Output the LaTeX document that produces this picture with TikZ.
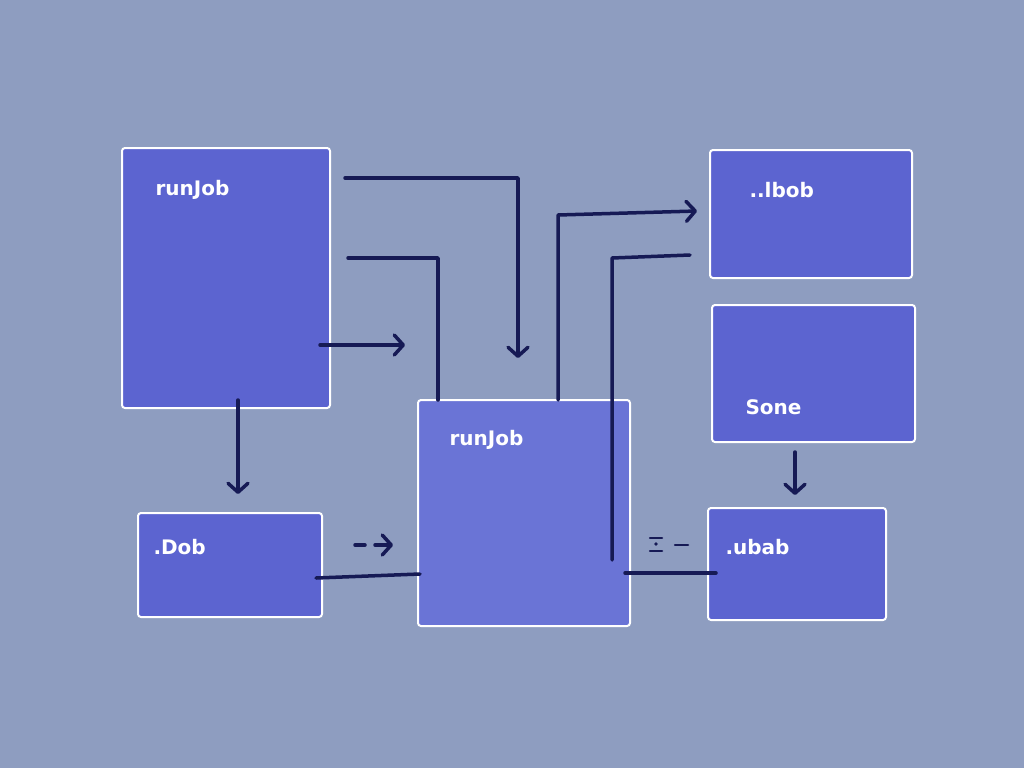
\documentclass[tikz,border=0pt]{standalone}
\usepackage{fontspec}
\setmainfont{DejaVu Sans}
\usetikzlibrary{arrows.meta}
\definecolor{bg}{HTML}{8E9DC0}
\definecolor{bx}{HTML}{5C64D0}
\definecolor{bx2}{HTML}{6A74D6}
\definecolor{ln}{HTML}{161A55}
\begin{document}
\begin{tikzpicture}[x=1pt,y=-1pt,
 box/.style={draw=white,line width=2pt,fill=bx,rounded corners=3pt},
 lbl/.style={text=white,font=\bfseries\fontsize{20}{22}\selectfont,anchor=west},
 con/.style={draw=ln,line width=3.5pt,line cap=round,line join=round},
 arr/.style={con,-{Straight Barb[length=9pt,width=20pt,line width=3.5pt,round]}}]
\fill[bg] (0,0) rectangle (1024,768);
\useasboundingbox (0,0) rectangle (1024,768);
\draw[box] (122,148) rectangle (330,408);
\draw[box,fill=bx2] (418,400) rectangle (630,626);
\draw[box] (710,150) rectangle (912,278);
\draw[box] (712,305) rectangle (915,442);
\draw[box] (708,508) rectangle (886,620);
\draw[box] (138,513) rectangle (322,617);
\node[lbl] (ta) at (152,190) {runJob};
\node[lbl] (tb) at (446,440) {runJob};
\node[lbl] (tc) at (746,190) {..lbob};
\node[lbl] (td) at (742,407) {Sone};
\node[lbl] (te) at (722,547) {.ubab};
\node[lbl] (tf) at (150,547) {.Dob};
\coordinate (a1) at (345,178); \coordinate (a1e) at (518,358);
\coordinate (a2) at (348,258); \coordinate (a2e) at (438,400);
\coordinate (a3) at (320,345); \coordinate (a3e) at (405,345);
\coordinate (a4) at (238,400); \coordinate (a4e) at (238,494);
\coordinate (f1) at (355,545); \coordinate (f1e) at (393,545);
\coordinate (f2) at (316,578); \coordinate (f2e) at (420,574);
\coordinate (b1) at (558,400); \coordinate (b1e) at (697,211);
\coordinate (b2) at (612,560); \coordinate (b2e) at (690,255);
\coordinate (b3) at (625,573); \coordinate (b3e) at (716,573);
\coordinate (d1) at (795,452); \coordinate (d1e) at (795,495);
\draw[arr] (a1) -- (518,178) -- (a1e);
\draw[con] (a2) -- (438,258) -- (a2e);
\draw[arr] (a3) -- (a3e);
\draw[arr] (a4) -- (a4e);
\draw[con] (f1) -- (365,545);
\draw[arr] (375,545) -- (f1e);
\draw[con] (f2) -- (f2e);
\draw[arr] (b1) -- (558,215) -- (b1e);
\draw[con] (b2) -- (612,258) -- (b2e);
\draw[con] (b3) -- (b3e);
\draw[arr] (d1) -- (d1e);
\draw[con,line width=2.5pt] (650,538) -- (662,538) (650,551) -- (662,551) (675,545) -- (688,545);
\fill[ln] (656,544) circle (1.8pt);
\end{tikzpicture}
\end{document}
